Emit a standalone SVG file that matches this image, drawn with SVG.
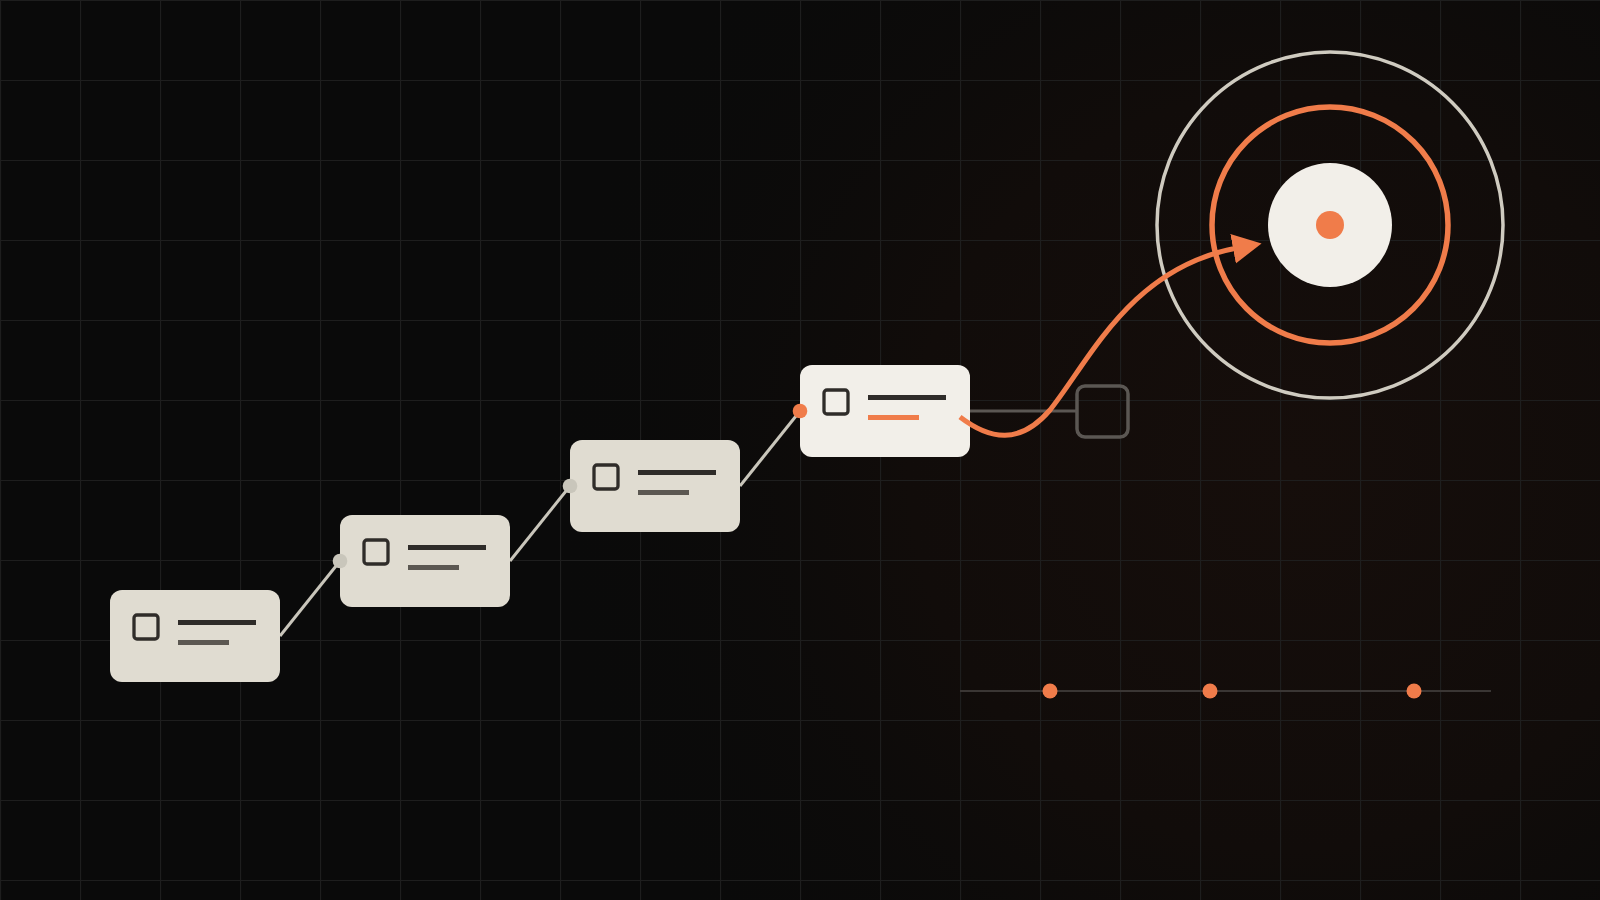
<svg xmlns="http://www.w3.org/2000/svg" width="1600" height="900" viewBox="0 0 1600 900">
  <defs>
    <radialGradient id="glow" cx="1290" cy="470" r="760" gradientUnits="userSpaceOnUse">
      <stop offset="0" stop-color="#160e0b"/>
      <stop offset="0.5" stop-color="#110c0a"/>
      <stop offset="1" stop-color="#0a0a0a" stop-opacity="0"/>
    </radialGradient>
    <pattern id="grid" x="0" y="0" width="80" height="80" patternUnits="userSpaceOnUse">
      <path d="M 0 0.5 H 80 M 0.5 0 V 80" fill="none" stroke="#1e1e1e" stroke-width="1.2"/>
    </pattern>
    <marker id="arrow" markerUnits="userSpaceOnUse" markerWidth="30" markerHeight="32" viewBox="0 0 30 32" refX="4" refY="16" orient="auto">
      <path d="M 0 1 L 29 16 L 0 31 Z" fill="#f07c4a"/>
    </marker>
    <style>
      .node { fill: #e0dcd1; }
      .node.active { fill: #f2efe9; }
      .check { fill: none; stroke: #2f2c29; stroke-width: 3.3; }
      .l1 { fill: #2f2c29; }
      .l2 { fill: #5c5852; }
      .l2o { fill: #f07c4a; }
      .conn { stroke: #c9c6bb; stroke-width: 3; fill: none; }
      .dot { fill: #c9c6bb; }
      .odot { fill: #f07c4a; }
    </style>
  </defs>

  <rect width="1600" height="900" fill="#0a0a0a"/>
  <rect width="1600" height="900" fill="url(#glow)"/>
  <rect width="1600" height="900" fill="url(#grid)"/>

  <!-- target -->
  <g id="target">
    <circle cx="1330" cy="225" r="173" fill="none" stroke="#cfcbc0" stroke-width="3.5"/>
    <circle cx="1330" cy="225" r="118" fill="none" stroke="#f07c4a" stroke-width="5.5"/>
    <circle cx="1330" cy="225" r="62" fill="#f2efe9"/>
    <circle cx="1330" cy="225" r="14" fill="#f07c4a"/>
  </g>

  <!-- timeline -->
  <g id="timeline">
    <line x1="960" y1="691" x2="1491" y2="691" stroke="#3a3634" stroke-width="2"/>
    <circle cx="1050" cy="691" r="7.5" fill="#f07c4a"/>
    <circle cx="1210" cy="691" r="7.5" fill="#f07c4a"/>
    <circle cx="1414" cy="691" r="7.5" fill="#f07c4a"/>
  </g>

  <!-- connectors (under nodes) -->
  <g id="connectors">
    <line class="conn" x1="280" y1="636" x2="340" y2="561"/>
    <line class="conn" x1="510" y1="561" x2="570" y2="486"/>
    <line class="conn" x1="740" y1="486" x2="800" y2="411"/>
    <line x1="968" y1="411" x2="1077" y2="411" stroke="#5b5753" stroke-width="3"/>
  </g>

  <g id="node1">
    <rect class="node" x="110" y="590" width="170" height="92" rx="12"/>
    <rect class="check" x="134" y="615" width="24" height="24" rx="3"/>
    <rect class="l1" x="178" y="620" width="78" height="5"/>
    <rect class="l2" x="178" y="640" width="51" height="5"/>
  </g>
  <g id="node2">
    <rect class="node" x="340" y="515" width="170" height="92" rx="12"/>
    <rect class="check" x="364" y="540" width="24" height="24" rx="3"/>
    <rect class="l1" x="408" y="545" width="78" height="5"/>
    <rect class="l2" x="408" y="565" width="51" height="5"/>
    <circle class="dot" cx="340" cy="561" r="7.3"/>
  </g>
  <g id="node3">
    <rect class="node" x="570" y="440" width="170" height="92" rx="12"/>
    <rect class="check" x="594" y="465" width="24" height="24" rx="3"/>
    <rect class="l1" x="638" y="470" width="78" height="5"/>
    <rect class="l2" x="638" y="490" width="51" height="5"/>
    <circle class="dot" cx="570" cy="486" r="7.3"/>
  </g>
  <g id="node4">
    <rect class="node active" x="800" y="365" width="170" height="92" rx="12"/>
    <rect class="check" x="824" y="390" width="24" height="24" rx="3"/>
    <rect class="l1" x="868" y="395" width="78" height="5"/>
    <rect class="l2o" x="868" y="415" width="51" height="5"/>
    <circle class="odot" cx="800" cy="411" r="7.3"/>
  </g>

  <g id="side-box">
    <rect x="1077" y="386" width="51" height="51" rx="8" fill="none" stroke="#5b5753" stroke-width="3.5"/>
  </g>

  <g id="connector-curve">
    <path d="M 960 417 C 990 440, 1020 445, 1050 410 C 1090 360, 1130 268, 1237 248" fill="none" stroke="#f07c4a" stroke-width="5" marker-end="url(#arrow)"/>
  </g>
</svg>
